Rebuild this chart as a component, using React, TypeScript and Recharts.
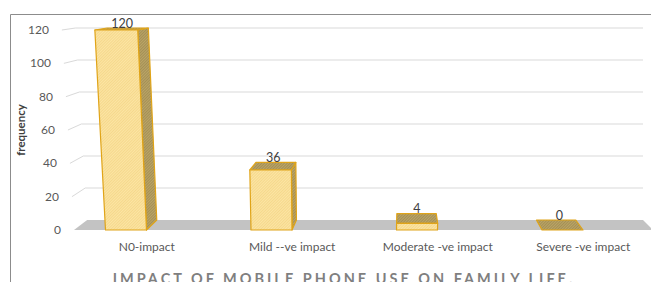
import React from "react";
import { Bar, BarChart, CartesianGrid, LabelList, XAxis, YAxis } from "recharts";

const categories = ["N0-impact", "Mild --ve impact", "Moderate -ve impact", "Severe -ve impact"];
const frequency = [120, 36, 4, 0];
const yTicks = [0, 20, 40, 60, 80, 100, 120];

const rows = categories.map((name, i) => ({ name, frequency: frequency[i] }));

// fake 3d: perspective toward a point above the middle, verticals lean a bit
const FLOOR_Y = 230;
const VX = 403;
const VY = -20;
const DEPTH = 0.96;
const SKEW_C = 0.00023;
const SKEW_X = 337;
const WALL_X = 74;
const FLOOR_RIGHT = 653;
const FACE_W = 41;

const FONT = "Lato, 'Liberation Sans', sans-serif";
const EDGE = "#E0A418";

type Pt = [number, number];

function skew(x: number, y: number) {
  return x + (FLOOR_Y - y) * SKEW_C * (x - SKEW_X);
}

function back(p: Pt): Pt {
  return [VX + DEPTH * (p[0] - VX), VY + DEPTH * (p[1] - VY)];
}

const pts = (list: Pt[]) => list.map((p) => `${p[0]},${p[1]}`).join(" ");

function corners(x: number, y: number, width: number, height: number) {
  const c = x + width / 2;
  const base = y + height;
  const L = c - FACE_W;
  const R = c;
  const fBL: Pt = [L, base];
  const fBR: Pt = [R, base];
  const fTL: Pt = [skew(L, y), y];
  const fTR: Pt = [skew(R, y), y];
  return { fBL, fBR, fTL, fTR, bBL: back(fBL), bBR: back(fBR), bTL: back(fTL), bTR: back(fTR) };
}

function Box(props: any) {
  const { x, y, width, height } = props;
  const k = corners(x, y, width, height);
  const tall = height > 0.5;
  return (
    <g stroke={EDGE} strokeWidth={1.2} strokeLinejoin="round">
      {tall && k.bTR[0] > k.fTR[0] && (
        <polygon points={pts([k.fTR, k.bTR, k.bBR, k.fBR])} fill="url(#sideHatch)" />
      )}
      {tall && k.bTL[0] < k.fTL[0] && (
        <polygon points={pts([k.fTL, k.bTL, k.bBL, k.fBL])} fill="url(#sideHatch)" />
      )}
      <polygon points={pts([k.fTL, k.fTR, k.bTR, k.bTL])} fill="url(#sideHatch)" />
      {tall && <polygon points={pts([k.fBL, k.fBR, k.fTR, k.fTL])} fill="url(#frontHatch)" />}
    </g>
  );
}

function ValueLabel(props: any) {
  const { x, y, width, height, value } = props;
  const k = corners(Number(x), Number(y), Number(width), Number(height));
  const cx = (k.fTL[0] + k.fTR[0] + k.bTL[0] + k.bTR[0]) / 4;
  return (
    <text x={cx} y={k.bTL[1] - 0.5} textAnchor="middle" fontFamily={FONT} fontSize={12.5} fill="#404040">
      {value}
    </text>
  );
}

function GridLine(props: any) {
  const y = props.y1;
  const front: Pt = [skew(WALL_X, y), y];
  const b = back(front);
  const farRight = back([FLOOR_RIGHT, y]);
  if (Math.abs(y - FLOOR_Y) < 1) {
    return (
      <polygon
        key={props.key}
        points={pts([[WALL_X, FLOOR_Y], [FLOOR_RIGHT, FLOOR_Y], farRight, b])}
        fill="#C3C3C3"
      />
    );
  }
  return (
    <polyline
      key={props.key}
      points={pts([front, b, farRight])}
      fill="none"
      stroke="#D9D9D9"
      strokeWidth={1}
    />
  );
}

function YTick(props: any) {
  const { y, payload } = props;
  return (
    <text x={skew(WALL_X, y) - 13} y={y + 4} textAnchor="end" fontFamily={FONT} fontSize={12} fill="#595959">
      {payload.value}
    </text>
  );
}

function XTick(props: any) {
  const { x, y, payload } = props;
  return (
    <text x={x} y={y + 21} textAnchor="middle" fontFamily={FONT} fontSize={12} fill="#595959">
      {payload.value}
    </text>
  );
}

export default function App() {
  return (
    <div style={{ position: "absolute", left: 0, top: 0, width: 651, height: 282, overflow: "hidden", background: "#fff" }}>
      <svg width={651} height={282} style={{ position: "absolute", left: 0, top: 0 }}>
        <defs>
          <pattern id="frontHatch" width="2" height="2" patternUnits="userSpaceOnUse" patternTransform="rotate(45)">
            <rect width="2" height="2" fill="#FCE5A4" />
            <rect width="1" height="2" fill="#F5D88C" />
          </pattern>
          <pattern id="sideHatch" width="2" height="2" patternUnits="userSpaceOnUse" patternTransform="rotate(45)">
            <rect width="2" height="2" fill="#BBA566" />
            <rect width="1" height="2" fill="#A38F56" />
          </pattern>
        </defs>
        <polyline points="10.5,282 10.5,14.5 651,14.5" fill="none" stroke="#8C8C8C" strokeWidth={1} />
        <text
          x={20}
          y={130}
          transform="rotate(-90 20 130)"
          textAnchor="middle"
          dominantBaseline="central"
          fontFamily={FONT}
          fontWeight="bold"
          fontSize={11.5}
          fill="#404040"
        >
          frequency
        </text>
        <text
          x={344}
          y={284}
          textAnchor="middle"
          fontFamily={FONT}
          fontWeight="bold"
          fontSize={14.5}
          letterSpacing={3}
          fill="#7F7F7F"
        >
          IMPACT OF MOBILE PHONE USE ON FAMILY LIFE.
        </text>
      </svg>
      <div style={{ position: "absolute", left: 0, top: 0 }}>
        <BarChart width={651} height={282} data={rows} margin={{ top: 30, right: -5, bottom: 30, left: 0 }}>
          <CartesianGrid vertical={false} horizontal={GridLine as never} />
          <XAxis
            dataKey="name"
            height={22}
            axisLine={false}
            tickLine={false}
            tickSize={0}
            tickMargin={0}
            interval={0}
            tick={XTick as never}
          />
          <YAxis
            domain={[0, 120]}
            ticks={yTicks}
            width={74}
            axisLine={false}
            tickLine={false}
            tick={YTick as never}
          />
          <Bar dataKey="frequency" barSize={FACE_W} shape={Box as never} isAnimationActive={false}>
            <LabelList dataKey="frequency" content={ValueLabel as never} />
          </Bar>
        </BarChart>
      </div>
    </div>
  );
}
